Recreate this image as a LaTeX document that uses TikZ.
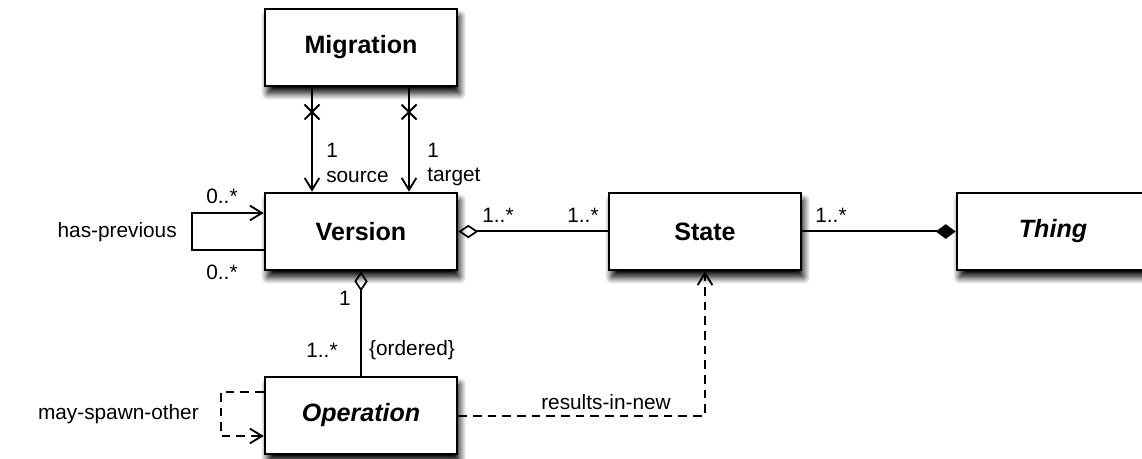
\documentclass[tikz,border=0pt]{standalone}
\usepackage{fontspec}
\setmainfont{Liberation Sans}
\usetikzlibrary{arrows.meta,calc,shadows.blur}
\begin{document}
\begin{tikzpicture}[x=0.75pt,y=-0.75pt,
  cls/.style={draw=black, line width=1.9pt, fill=white, minimum width=144pt, minimum height=57.75pt,
    inner sep=0pt, font=\fontsize{18.8pt}{22pt}\selectfont\bfseries,
    blur shadow={shadow xshift=2pt, shadow yshift=-5.5pt, shadow blur radius=5pt, shadow blur steps=8, shadow opacity=100}},
  abs/.style={cls, font=\fontsize{18.8pt}{22pt}\selectfont\bfseries\itshape},
  conn/.style={draw=black, line width=1.5pt},
  dconn/.style={conn, dash pattern=on 6.5pt off 4.5pt},
  open/.style={-{Straight Barb[length=9pt, width=11pt, line width=1.4pt]}},
  odia/.style={{Diamond[open, length=15pt, width=10pt, line width=1.3pt]}-},
  fdia/.style={-{Diamond[length=15pt, width=11pt]}},
  lbl/.style={inner sep=0pt, font=\fontsize{15.6pt}{18pt}\selectfont},
  crossmark/.style={draw=black, line width=1.5pt}
]
\useasboundingbox (0,0) rectangle (1142,459);

\node[cls] (migration) at (361,47.5) {Migration};
\node[cls] (version) at (361,231.5) {Version};
\node[cls] (state) at (705,231.5) {State};
\node[abs] (thing) at (1053,231.5) {Thing};
\node[abs] (operation) at (361,415.5) {Operation};

% Migration -> Version
\coordinate (sx) at (312,0);
\coordinate (tx) at (409,0);
\draw[conn, open] (migration.south -| sx) -- (version.north -| sx);
\draw[conn, open] (migration.south -| tx) -- (version.north -| tx);
\coordinate (cs) at (312,112);
\coordinate (ct) at (409,112);
\draw[crossmark] (cs) +(-7.5,-7.5) -- +(7.5,7.5) +(-7.5,7.5) -- +(7.5,-7.5);
\draw[crossmark] (ct) +(-7.5,-7.5) -- +(7.5,7.5) +(-7.5,7.5) -- +(7.5,-7.5);
\node[lbl, anchor=west] (s1) at (326,150) {1};
\node[lbl, anchor=west] (sl) at (326,177) {source};
\node[lbl, anchor=west] (t1) at (427,150) {1};
\node[lbl, anchor=west] (tl) at (427,177) {target};

% Version self loop
\draw[conn, open] ($(version.west)+(0,19)$) -- ++(-72,0) |- ($(version.west)+(0,-18.5)$);
\node[lbl] (vm1) at (222,196) {0..*};
\node[lbl] (vm2) at (222,272) {0..*};
\node[lbl, anchor=east] (hp) at (177,232) {has-previous};

% Version - State
\draw[conn, odia] (version.east) -- (state.west);
\node[lbl] (vs1) at (498,215) {1..*};
\node[lbl] (vs2) at (583,215) {1..*};

% State - Thing
\draw[conn, fdia] (state.east) -- (thing.west);
\node[lbl] (st1) at (831,215) {1..*};

% Version - Operation
\draw[conn, odia] (version.south) -- (operation.north);
\node[lbl] (vo1) at (345,298) {1};
\node[lbl] (vo2) at (322,350) {1..*};
\node[lbl] (vo3) at (412,350) {\{ordered\}};

% Operation self loop
\draw[dconn, open] ($(operation.west)+(0,-23.5)$) -- ++(-43,0) |- ($(operation.west)+(0,20.5)$);
\node[lbl, anchor=east] (ms) at (199,414) {may-spawn-other};

% Operation -> State
\draw[dconn, open] (operation.east) -| (state.south);
\node[lbl] (rn) at (606,402) {results-in-new};
\end{tikzpicture}
\end{document}
